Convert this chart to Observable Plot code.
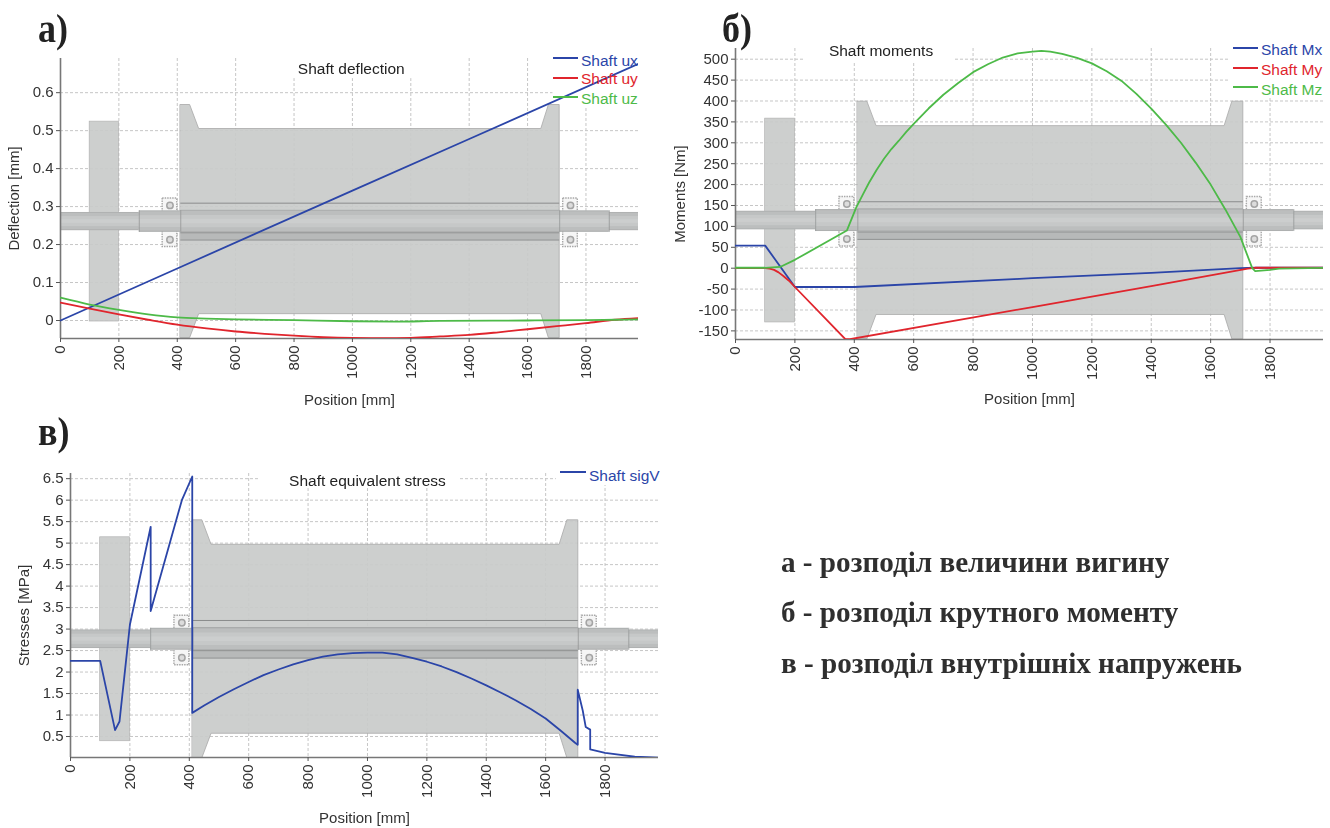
<!DOCTYPE html>
<html lang="uk"><head><meta charset="utf-8">
<script src="https://cdn.jsdelivr.net/npm/d3@7"></script>
<script src="https://cdn.jsdelivr.net/npm/@observablehq/plot@0.6"></script>
<style>
html,body{margin:0;padding:0;background:#fff;width:1330px;height:828px;overflow:hidden}
#page{position:relative;width:1330px;height:828px}
.plot{position:absolute}
.plot svg{display:block;background:transparent;filter:blur(.3px)}
.letter,.cap{position:absolute;font-family:"Liberation Serif",serif;font-weight:700;color:#222;white-space:nowrap;transform-origin:left center}
.letter{font-size:40px;line-height:40px;transform:scaleX(.9)}
.cap{font-size:30px;line-height:34px;left:781px;color:#2f2f2f;transform:scaleX(.972)}
.leg{position:absolute;font:15.5px "Liberation Sans",sans-serif;white-space:nowrap;overflow:hidden}
</style></head><body><div id="page"></div>
<script>
// ---- shared x ticks
const xTicks = [0,200,400,600,800,1000,1200,1400,1600,1800];
// ---- panel a: deflection
const uxPos = [0,400,1000,1400,1980];
const uxVal = [0,0.137,0.342,0.478,0.676];
const uyPos = [0,100,200,300,400,500,600,700,800,900,1000,1100,1200,1300,1400,1500,1600,1700,1800,1900,1980];
const uyVal = [0.047,0.031,0.016,0.002,-0.011,-0.021,-0.029,-0.035,-0.04,-0.044,-0.046,-0.0465,-0.0455,-0.042,-0.038,-0.031,-0.023,-0.015,-0.007,0.002,0.006];
const uzPos = [0,100,200,300,400,500,600,800,1000,1150,1300,1600,1800,1900,1980];
const uzVal = [0.06,0.042,0.028,0.016,0.008,0.005,0.003,0.001,-0.002,-0.003,-0.001,0,0.001,0.002,0.003];
const aTicks = [0,0.1,0.2,0.3,0.4,0.5,0.6];
// ---- panel b: moments
const mxPos = [0,100,200,375,400,1000,1400,1700,1750,1980];
const mxVal = [54,54,-45,-45,-45,-24,-11,0,1,1];
const myPos = [0,100,115,130,145,160,180,200,370,385,1000,1400,1725,1750,1980];
const myVal = [0,0,-1,-4,-10,-18,-30,-45,-170,-170,-93,-43,-1,1,1];
const mzPos = [0,100,150,200,375,407,430,450,475,500,525,550,575,600,650,700,750,800,850,900,950,1000,1030,1060,1100,1150,1200,1250,1300,1350,1400,1450,1500,1550,1600,1650,1700,1740,1750,1800,1830,1980];
const mzVal = [1,1,3,20,90,146,178,205,235,262,285,305,326,345,382,415,443,469,488,504,514,518,520,518,513,503,490,471,448,417,382,343,300,252,200,140,75,0,-7,-4,-1,1];
const bTicks = [-150,-100,-50,0,50,100,150,200,250,300,350,400,450,500];
// ---- panel c: equivalent stress
const sigPos = [0,100,150,165,200,270,270,375,410,410,450,500,550,600,650,700,750,800,850,900,950,1000,1050,1100,1150,1200,1250,1300,1350,1400,1450,1500,1550,1600,1650,1700,1708,1708,1725,1735,1750,1750,1800,1900,1980];
const sigVal = [2.26,2.26,0.65,0.85,3.1,5.38,3.42,6.0,6.55,1.05,1.22,1.42,1.6,1.77,1.93,2.06,2.18,2.28,2.36,2.41,2.44,2.45,2.45,2.41,2.33,2.24,2.13,2.0,1.85,1.69,1.52,1.34,1.14,0.92,0.64,0.35,0.31,1.59,1.1,0.72,0.66,0.2,0.12,0.03,0.01];
const cTicks = [0.5,1,1.5,2,2.5,3,3.5,4,4.5,5,5.5,6,6.5];
// ---- shaft drawing (model outline: position in mm, radius in drawing units)
const drumPos = [412,444,475,1647,1673,1710];
const drumRad = [119,119,94.5,94.5,119,119];
const diskPos = [100,200], diskRad = 102;
const segPos1 = [0,270,412,1710,1880], segPos2 = [270,412,1710,1880,1980], segRad = [9.3,11,11.4,11,9.3];
const sleeveRad = 18.8;
const bearingPos1 = [350,1722], bearingPos2 = [400,1772];

const BLUE="#2b45a8",RED="#e0252d",GREEN="#4dba48";
const FONT='"Liberation Sans",sans-serif';
const zip=(xs,ys)=>xs.map((x,i)=>({x,y:ys[i]}));

function shaftMarks(c,u){
  const drum=drumPos.map((x,i)=>({x,y1:c-drumRad[i]*u,y2:c+drumRad[i]*u}));
  const segs=segPos1.map((x,i)=>({x1:x,x2:segPos2[i],r:segRad[i]}));
  const band=(k,fill)=>Plot.rect(segs,{x1:"x1",x2:"x2",y1:d=>c-d.r*k*u,y2:d=>c+d.r*k*u,fill,clip:true});
  const br=bearingPos1.map((x,i)=>({x1:x,x2:bearingPos2[i]}));
  const bearing=(s)=>[
    Plot.rect(br,{x1:"x1",x2:"x2",y1:c+s*(s>0?7:9)*u,y2:c+s*(s>0?23.5:26)*u,fill:"#f6f6f6",stroke:"#a8a8a8",strokeWidth:1.4,strokeDasharray:"1.5 1"}),
    Plot.dot(br,{x:d=>(d.x1+d.x2)/2,y:c+s*(s>0?16.5:18.5)*u,r:3.2,fill:"#dcdcdc",stroke:"#a4a4a4"})
  ];
  return [
    Plot.rect(diskPos.slice(0,1),{x1:diskPos[0],x2:diskPos[1],y1:c-diskRad*u,y2:c+diskRad*u,fill:"#c9cbca",fillOpacity:.93,stroke:"#b2b2b2",strokeWidth:.7,clip:true}),
    Plot.areaY(drum,{x:"x",y1:"y1",y2:"y2",fill:"#c9cbca",fillOpacity:.93,stroke:"#a8a8a8",strokeWidth:.8,clip:true}),
    ...bearing(1),...bearing(-1),
    Plot.rect([0],{x1:drumPos[0],x2:drumPos[5],y1:c-sleeveRad*u,y2:c-segRad[2]*u,fill:"#b7b9b9",clip:true}),
    Plot.ruleY([c+sleeveRad*u,c-segRad[2]*u,c+segRad[2]*u,c-sleeveRad*u],{x1:drumPos[0],x2:drumPos[5],stroke:"#8a8c8c",strokeWidth:1}),
    band(1,"#aeb0b0"),band(.9,"#bcbebe"),band(.55,"#c6c8c8"),band(.2,"#cccece"),
    Plot.ruleX(segPos1.slice(1),{y1:c-11*u,y2:c+11*u,stroke:"#969898",strokeWidth:.8})
  ];
}

function chart(o){
  const fig=Plot.plot({
    width:o.w,height:o.h,marginLeft:o.ml,marginRight:o.mr,marginTop:o.mt,marginBottom:o.mb,
    style:{background:"transparent",fontFamily:FONT,fontSize:"15px",color:"#333"},
    x:{domain:[0,1980]},
    y:{domain:o.dom},
    marks:[
      Plot.gridX({ticks:xTicks,stroke:"#c6c6c6",strokeOpacity:1,strokeDasharray:"3 2"}),
      Plot.gridY({ticks:o.ticks,stroke:"#c6c6c6",strokeOpacity:1,strokeDasharray:"3 2"}),
      ...o.masks.map(m=>Plot.rect([0],{x1:m[0],x2:m[1],y1:m[2],y2:m[3],fill:"#fff"})),
      ...shaftMarks(o.c,o.u),
      Plot.ruleX([0],{stroke:"#777",strokeWidth:1.6}),
      Plot.ruleY([o.dom[0]],{stroke:"#777",strokeWidth:1.6}),
      Plot.axisX({ticks:xTicks,tickRotate:-90,tickSize:4,tickPadding:3,stroke:"#555",fontSize:15,label:"Position [mm]",labelAnchor:"center",labelArrow:"none",labelOffset:o.lx,tickFormat:d=>String(d)}),
      Plot.axisY({ticks:o.ticks,tickSize:4,tickPadding:3,stroke:"#555",fontSize:15,label:o.ylabel,labelAnchor:"center",labelArrow:"none",labelOffset:o.ly,tickFormat:d=>String(d)}),
      ...o.series.map(s=>Plot.line(zip(s[0],s[1]),{x:"x",y:"y",stroke:s[2],strokeWidth:1.8,clip:true,curve:s[3]||"linear"})),
      Plot.text([o.title[0]],{x:o.title[1],y:o.title[2],fontSize:15.5,fill:"#222"})
    ]
  });
  const box=document.createElement("div");box.className="plot";box.style.left=o.l+"px";box.style.top=o.t+"px";
  box.appendChild(fig);page.appendChild(box);
}
const page=document.getElementById("page");

chart({l:0,t:48,w:645,h:362,ml:60,mr:7,mt:10,mb:72,dom:[-0.0474,0.69],ticks:aTicks,ylabel:"Deflection [mm]",lx:66,ly:52,c:0.2605,u:0.00258,
  masks:[[700,1310,0.637,0.69],[1687,1980,0.562,0.69]],
  title:["Shaft deflection",996,0.663],
  series:[[uxPos,uxVal,BLUE],[uyPos,uyVal,RED,"monotone-x"],[uzPos,uzVal,GREEN,"monotone-x"]]});
chart({l:665,t:38,w:665,h:372,ml:70,mr:7,mt:10,mb:71,dom:[-170.6,525.6],ticks:bTicks,ylabel:"Moments [Nm]",lx:64,ly:61,c:114,u:2.39,
  masks:[[231,738,492,525.6],[1664,1980,409,525.6]],
  title:["Shaft moments",490,519],
  series:[[mxPos,mxVal,BLUE],[myPos,myVal,RED],[mzPos,mzVal,GREEN]]});
chart({l:0,t:463,w:665,h:365,ml:70,mr:7,mt:10,mb:71,dom:[0.012,6.62],ticks:cTicks,ylabel:"Stresses [MPa]",lx:65,ly:52,c:2.763,u:0.02326,
  masks:[[636,1307,6.27,6.62],[1636,1980,6.34,6.62]],
  title:["Shaft equivalent stress",1000,6.44],
  series:[[sigPos,sigVal,BLUE]]});

// legends
function legend(items,lineL,lineR,textL,right){
  items.forEach(([t,col,ly,ty])=>{
    const s=document.createElement("div");s.className="leg";
    s.style.cssText=`left:${lineL}px;top:${ly-1}px;width:${lineR-lineL}px;height:2px;background:${col}`;page.appendChild(s);
    const d=document.createElement("div");d.className="leg";d.textContent=t;
    d.style.cssText=`left:${textL}px;top:${ty-9}px;width:${right-textL}px;height:18px;line-height:18px;color:${col}`;page.appendChild(d);
  });
}
legend([["Shaft ux",BLUE,58,61],["Shaft uy",RED,78,79],["Shaft uz",GREEN,97,99]],553,578,581,638);
legend([["Shaft Mx",BLUE,48,50],["Shaft My",RED,68,70],["Shaft Mz",GREEN,87,90]],1233,1258,1261,1326);
legend([["Shaft sigV",BLUE,472,476]],560,586,589,660);

// panel letters and captions
[["а)",38,9],["б)",722,9],["в)",38,412]].forEach(([t,x,y])=>{const d=document.createElement("div");d.className="letter";d.textContent=t;d.style.left=x+"px";d.style.top=y+"px";page.appendChild(d);});
[["а - розподіл величини вигину",545],["б - розподіл крутного моменту",595],["в - розподіл внутрішніх напружень",646]].forEach(([t,y])=>{const d=document.createElement("div");d.className="cap";d.textContent=t;d.style.top=y+"px";page.appendChild(d);});
</script></body></html>
